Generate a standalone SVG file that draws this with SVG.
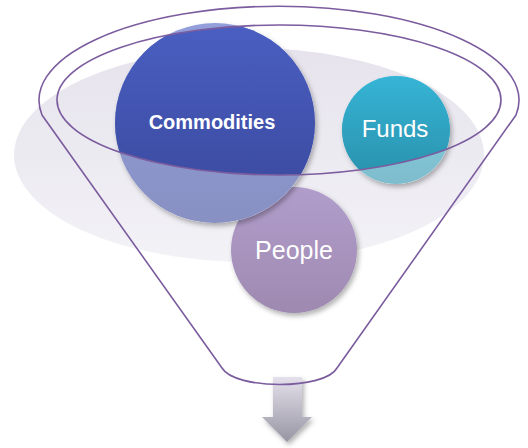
<svg xmlns="http://www.w3.org/2000/svg" width="528" height="448" viewBox="0 0 528 448">
<style>
.lbl{fill:#ffffff;font-family:"Liberation Sans",Arial,sans-serif;text-anchor:middle}
.funnel{fill:none;stroke:#7b5c9e;stroke-width:1.6}
</style>
<defs>
<linearGradient id="gBg" x1="0" y1="0" x2="0" y2="1"><stop offset="0" stop-color="#e6e3ec"/><stop offset="1" stop-color="#f3f2f7"/></linearGradient>
<linearGradient id="gCom" x1="0" y1="0" x2="0" y2="1"><stop offset="0" stop-color="#4a5fc2"/><stop offset="1" stop-color="#39479a"/></linearGradient>
<linearGradient id="gFun" x1="0" y1="0" x2="0" y2="1"><stop offset="0" stop-color="#36b4d6"/><stop offset="1" stop-color="#2890aa"/></linearGradient>
<linearGradient id="gPeo" x1="0" y1="0" x2="0" y2="1"><stop offset="0" stop-color="#b19dcb"/><stop offset="1" stop-color="#9e8ab0"/></linearGradient>
<linearGradient id="gArr" x1="0" y1="0" x2="0" y2="1"><stop offset="0" stop-color="#e4e1ec"/><stop offset="1" stop-color="#9895a3"/></linearGradient>
<clipPath id="inner"><ellipse cx="279" cy="100" rx="222" ry="75"/></clipPath>
<filter id="sh" x="-20%" y="-20%" width="140%" height="140%"><feDropShadow dx="2" dy="3" stdDeviation="2.5" flood-color="#000" flood-opacity="0.3"/></filter>
</defs>
<ellipse id="bg" cx="249" cy="155" rx="235" ry="107" fill="url(#gBg)"/>
<g id="people">
<circle cx="294" cy="250" r="63" fill="url(#gPeo)" filter="url(#sh)"/>
<text class="lbl" x="294" y="259" font-size="25">People</text>
</g>
<g id="commodities">
<circle cx="215" cy="123" r="100" fill="#fff" filter="url(#sh)"/>
<circle cx="215" cy="123" r="100" fill="url(#gCom)" opacity="0.6"/>
<circle cx="215" cy="123" r="100" fill="url(#gCom)" clip-path="url(#inner)"/>
<text class="lbl" x="212" y="129" font-size="20" font-weight="bold">Commodities</text>
</g>
<g id="funds">
<circle cx="396" cy="130" r="54" fill="#fff" filter="url(#sh)"/>
<circle cx="396" cy="130" r="54" fill="url(#gFun)" opacity="0.6"/>
<circle cx="396" cy="130" r="54" fill="url(#gFun)" clip-path="url(#inner)"/>
<text class="lbl" x="395" y="137" font-size="24">Funds</text>
</g>
<g id="arrow">
<path d="M273,377 H302 V417 H312 L287,442 L262,417 H273 Z" fill="url(#gArr)" filter="url(#sh)"/>
</g>
<g id="funnel">
<path class="funnel" d="M42,115 A240,94 0 1 1 516,115 L337,368 C325,390 235,390 222,368 Z"/>
<ellipse class="funnel" cx="279" cy="100" rx="222" ry="75"/>
</g>
</svg>
